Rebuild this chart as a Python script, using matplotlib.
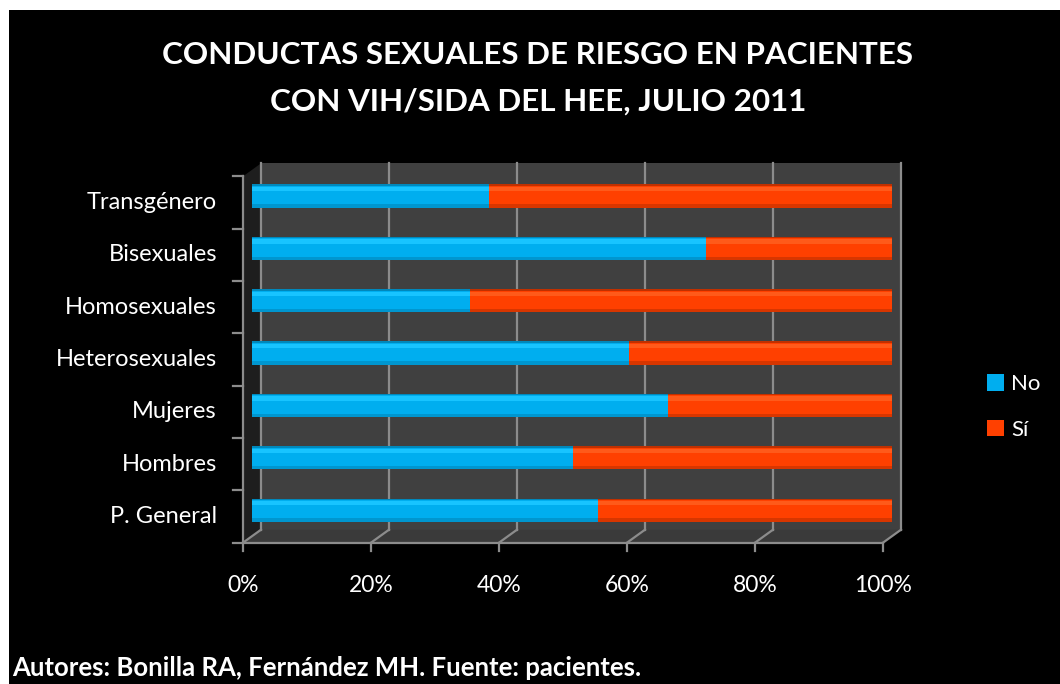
import matplotlib
matplotlib.use("Agg")
import matplotlib.pyplot as plt
from matplotlib.patches import Polygon, Rectangle

plt.rcParams['font.family'] = ['Lato', 'DejaVu Sans']

# Datos (porcentaje por grupo)
categorias = ["P. General", "Hombres", "Mujeres", "Heterosexuales",
              "Homosexuales", "Bisexuales", "Transgénero"]
no_pct = [54.1, 50.2, 65.0, 58.9, 34.1, 70.9, 37.0]
si_pct = [45.9, 49.8, 35.0, 41.1, 65.9, 29.1, 63.0]
series = ["No", "Sí"]
ticks_x = [0, 20, 40, 60, 80, 100]
etiquetas_x = ["0%", "20%", "40%", "60%", "80%", "100%"]

titulo = ["CONDUCTAS SEXUALES DE RIESGO EN PACIENTES",
          "CON VIH/SIDA DEL HEE, JULIO 2011"]
pie = "Autores: Bonilla RA, Fernández MH. Fuente: pacientes."

W, H = 1060, 684
fig = plt.figure(figsize=(10.6, 6.84), dpi=100, facecolor='white')

# panel negro (borde blanco arriba y a la izquierda)
fig.patches.append(Rectangle((9 / W, 0), 1 - 9 / W, 1 - 10 / H,
                             transform=fig.transFigure, facecolor='black',
                             edgecolor='none', zorder=-10))

ax = fig.add_axes([200 / W, 124 / H, 720 / W, 410 / H])
ax.set_xlim(-8.125, 104.375)
ax.set_ylim(-0.955, 6.879)
ax.axis('off')

# desplazamiento de profundidad (efecto 3D)
dx, dy = 1.406, 0.124
n = len(categorias)
gris = '#8c8c8c'

# pared del fondo, pared izquierda y piso
ax.add_patch(Rectangle((dx, -0.5 + dy), 100, n, facecolor='#404040', edgecolor='none', zorder=0))
ax.add_patch(Polygon([(-dx, -0.5 - dy), (dx, -0.5 + dy), (dx, n - 0.5 + dy), (-dx, n - 0.5 - dy)],
                     closed=True, facecolor='#1e1e1e', edgecolor='none', zorder=0))
ax.add_patch(Polygon([(-dx, -0.5 - dy), (dx, -0.5 + dy), (100 + dx, -0.5 + dy), (100 - dx, -0.5 - dy)],
                     closed=True, facecolor='#3a3a3a', edgecolor='none', zorder=0))

for t in ticks_x:
    ax.plot([t + dx, t + dx], [-0.5 + dy, n - 0.5 + dy], color=gris, lw=1.6, zorder=1)
    ax.plot([t + dx, t - dx], [-0.5 + dy, -0.5 - dy], color=gris, lw=1.6, zorder=1)
    ax.plot([t - dx, t - dx], [-0.5 - dy, -0.5 - dy - 0.15], color=gris, lw=1.6, zorder=1)

# ejes frontales
ax.plot([-dx, -dx], [-0.5 - dy, n - 0.5 - dy], color=gris, lw=1.6, zorder=1)
ax.plot([-dx, 100 - dx], [-0.5 - dy, -0.5 - dy], color=gris, lw=1.6, zorder=1)
for k in range(n + 1):
    ax.plot([-dx - 1.5, -dx], [k - 0.5 - dy, k - 0.5 - dy], color=gris, lw=1.6, zorder=1)

# barras apiladas
y = list(range(n))
h = 0.44
b1 = ax.barh(y, no_pct, height=h, color='#00AEEF', zorder=3, label=series[0])
b2 = ax.barh(y, si_pct, left=no_pct, height=h, color='#FF4000', zorder=3, label=series[1])
# sombreado tipo cilindro
ax.barh([v + h / 2 - 0.015 for v in y], no_pct, height=0.03, color='#0088BB', zorder=4)
ax.barh([v + h / 2 - 0.015 for v in y], si_pct, left=no_pct, height=0.03, color='#C03000', zorder=4)
ax.barh([v + 0.13 for v in y], no_pct, height=0.08, color='#18C4FF', zorder=4)
ax.barh([v + 0.13 for v in y], si_pct, left=no_pct, height=0.08, color='#FF5A1A', zorder=4)
ax.barh([v - h / 2 + 0.03 for v in y], no_pct, height=0.06, color='#0096CF', zorder=4)
ax.barh([v - h / 2 + 0.03 for v in y], si_pct, left=no_pct, height=0.06, color='#D83600', zorder=4)

# etiquetas
for i, c in enumerate(categorias):
    ax.text(-5.47, i - dy, c, ha='right', va='center', color='white', fontsize=17)
for t, lab in zip(ticks_x, etiquetas_x):
    ax.text(t - dx, -1.433, lab, ha='center', va='center', color='white', fontsize=16.5)

fig.text(538 / W, 1 - 55 / H, titulo[0], ha='center', va='center', color='white',
         fontsize=22.6, fontweight='bold')
fig.text(538 / W, 1 - 102 / H, titulo[1], ha='center', va='center', color='white',
         fontsize=22.6, fontweight='bold')

fig.legend(handles=[b1, b2], loc='center left', bbox_to_anchor=(987 / W, 1 - 407 / H),
           frameon=False, labelcolor='white', fontsize=16, handlelength=0.75,
           handleheight=0.75, handletextpad=0.35, labelspacing=1.15,
           borderpad=0, borderaxespad=0)

fig.text(12 / W, 1 - 668 / H, pie, ha='left', va='center', color='white',
         fontsize=18.5, fontweight='bold')

fig.savefig("out.png", dpi=100, facecolor='white')
